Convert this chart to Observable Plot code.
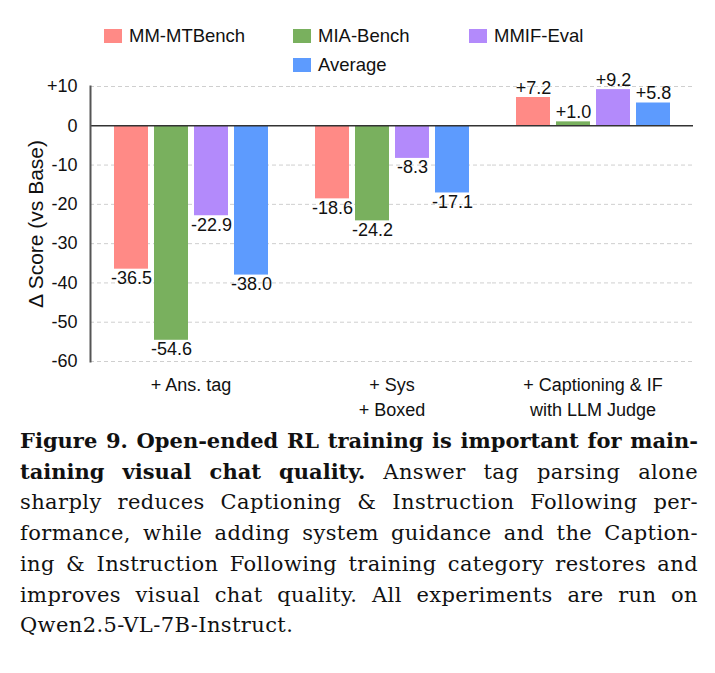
<!DOCTYPE html>
<html>
<head>
<meta charset="utf-8">
<script src="https://cdn.jsdelivr.net/npm/d3@7"></script>
<script src="https://cdn.jsdelivr.net/npm/@observablehq/plot@0.6"></script>
<style>
  html, body { margin: 0; padding: 0; background: #fff; }
  body { width: 715px; font-family: "Liberation Sans", Arial, sans-serif; }
  #legend {
    position: relative; height: 60px; overflow: visible; z-index: 2;
    display: grid; grid-template-columns: 189px 176px auto; grid-auto-rows: 29px;
    padding-left: 104px; padding-top: 21px; box-sizing: border-box;
    font-size: 18.5px; color: #111;
  }
  .item { display: flex; align-items: center; white-space: nowrap; }
  .sw { width: 18px; height: 14px; margin-right: 7px; flex: none; }
  #chart svg { display: block; }
  #caption {
    font-family: "DejaVu Serif", serif;
    font-size: 21px; line-height: 30.7px; color: #111;
    letter-spacing: 0.4px;
    padding: 1px 17px 0 20px;
  }
  #caption b { letter-spacing: 0; }
  #caption .j { text-align: justify; text-align-last: justify; }
</style>
</head>
<body>
<div id="legend"></div>
<div id="chart"></div>
<div id="caption">
  <div class="j"><b>Figure 9. Open-ended RL training is important for main-</b></div>
  <div class="j"><b>taining visual chat quality.</b> Answer tag parsing alone</div>
  <div class="j">sharply reduces Captioning &amp; Instruction Following per-</div>
  <div class="j">formance, while adding system guidance and the Caption-</div>
  <div class="j">ing &amp; Instruction Following training category restores and</div>
  <div class="j">improves visual chat quality. All experiments are run on</div>
  <div>Qwen2.5-VL-7B-Instruct.</div>
</div>
<script>
// Training setups (x groups) and evaluation benchmarks (bars within each group)
const groups = ["+ Ans. tag", "+ Sys\n+ Boxed", "+ Captioning & IF\nwith LLM Judge"];
const series = ["MM-MTBench", "MIA-Bench", "MMIF-Eval", "Average"];
const colors = ["#FF8A86", "#79B05E", "#B38AFB", "#5D9BFE"];

// Score change vs. base model, one value per group
const mmMTBench = [-36.5, -18.6, 7.2];
const miaBench  = [-54.6, -24.2, 1.0];
const mmifEval  = [-22.9, -8.3, 9.2];
const average   = [-38.0, -17.1, 5.8];

const yTicks = [10, 0, -10, -20, -30, -40, -50, -60];

const valuesBySeries = [mmMTBench, miaBench, mmifEval, average];
const data = groups.flatMap((g, gi) =>
  series.map((s, si) => ({group: g, series: s, value: valuesBySeries[si][gi]}))
);

const signed = (v) => (v > 0 ? "+" : "") + v.toFixed(1);
const tickFmt = (d) => (d > 0 ? "+" + d : String(d));

// Legend: three columns, "Average" wraps under the second column
const legend = d3.select("#legend");
series.forEach((s, i) => {
  const item = legend.append("div").attr("class", "item");
  if (i === 3) item.style("grid-column", "2");
  item.append("div").attr("class", "sw").style("background", colors[i]);
  item.append("span").text(s);
});

const chart = Plot.plot({
  width: 715,
  height: 365,
  marginTop: 26,
  marginLeft: 90,
  marginRight: 22,
  marginBottom: 64,
  style: {fontFamily: "Liberation Sans, Arial, sans-serif", color: "#111"},
  fx: {domain: groups, paddingInner: 0, paddingOuter: 0},
  x: {domain: series, paddingInner: 0.15, paddingOuter: 0.5875, axis: null},
  y: {domain: [-60, 10]},
  color: {domain: series, range: colors},
  marks: [
    Plot.ruleY(yTicks.filter((d) => d !== 0), {stroke: "#cfcfcf", strokeWidth: 1, strokeDasharray: "4,3"}),
    Plot.barY(data, {fx: "group", x: "series", y: "value", fill: "series"}),
    Plot.ruleY([0], {stroke: "#333", strokeWidth: 1.5}),
    Plot.frame({anchor: "left", stroke: "#555", strokeWidth: 2, fx: [groups[0]]}),
    Plot.text(data.filter((d) => d.value < 0), {
      fx: "group", x: "series", y: "value", text: (d) => signed(d.value),
      lineAnchor: "top", dy: 2, fontSize: 18, fill: "#111"
    }),
    Plot.text(data.filter((d) => d.value >= 0), {
      fx: "group", x: "series", y: "value", text: (d) => signed(d.value),
      lineAnchor: "bottom", dy: -4, fontSize: 18, fill: "#111"
    }),
    Plot.axisY({
      ticks: yTicks, tickSize: 0, tickPadding: 13, tickFormat: tickFmt, fontSize: 18,
      label: "Δ Score (vs Base)", labelAnchor: "center", labelOffset: 62, labelArrow: "none"
    }),
    Plot.axisFx({
      anchor: "bottom", tickSize: 0, tickPadding: 11, fontSize: 18, lineHeight: 1.42,
      label: null
    })
  ]
});
chart.querySelectorAll("g[aria-label='y-axis label'] text, g[aria-label='y-axis label']").forEach((el) => el.setAttribute("font-size", "21"));
document.getElementById("chart").append(chart);
</script>
</body>
</html>
